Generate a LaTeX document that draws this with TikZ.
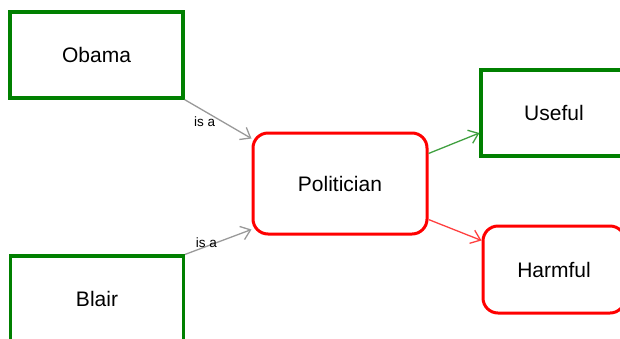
\documentclass[tikz,border=0pt]{standalone}
\usepackage{fontspec}
\setmainfont{Liberation Sans}
\usetikzlibrary{arrows.meta,positioning}
\definecolor{clInstance}{HTML}{008000}
\definecolor{clClass}{HTML}{FF0000}
\definecolor{clLink}{HTML}{999999}
\tikzset{
  box/.style={rectangle, draw, align=center, inner sep=0pt,
              minimum width=173pt, minimum height=86pt, font=\fontsize{21}{25}\selectfont},
  instance/.style={box, draw=clInstance, line width=3.2pt},
  category/.style={box, draw=clClass, line width=3pt, rounded corners=15pt},
  flow/.style={-{Straight Barb[length=9pt,width=14pt]}, line width=1.3pt},
  flowlabel/.style={font=\fontsize{13.5}{14}\selectfont, inner sep=1pt},
}

\begin{document}
\begin{tikzpicture}[x=1pt,y=-1pt]
  \useasboundingbox (0,0) rectangle (620,338);
  \node[instance] (obama) at (96.5,55) {Obama};
  \node[instance] (blair) at (97,299) {Blair};
  \node[category, minimum width=174pt, minimum height=101pt] (pol) at (340,183.5) {Politician};
  \node[instance, minimum width=146pt] (useful) at (554,113) {Useful};
  \node[category, minimum width=142pt, minimum height=87pt] (harmful) at (554,269.5) {Harmful};
  \draw[flow, draw=clLink] (obama.south east) -- node[flowlabel, pos=0.3, below=4pt]{is a} ([yshift=-7pt]pol.north west);
  \draw[flow, draw=clLink] (blair.north east) -- node[flowlabel, pos=0.32, above, yshift=-3pt]{is a} ([yshift=6pt]pol.south west);
  \draw[flow, draw=clInstance!75] ([yshift=-22pt]pol.north east) -- ([yshift=-20pt]useful.west);
  \draw[flow, draw=clClass!75] ([yshift=16pt]pol.south east) -- ([yshift=29pt]harmful.west);
\end{tikzpicture}
\end{document}
